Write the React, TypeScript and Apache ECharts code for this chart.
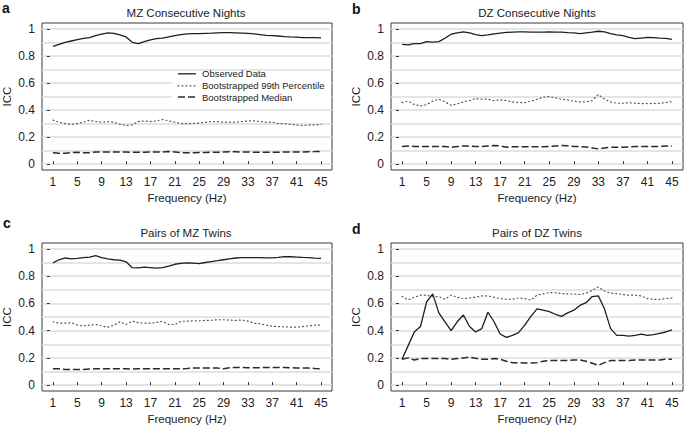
import { useEffect, useRef } from "react";
import * as echarts from "echarts";

// ---------- data ----------
const freqs = [1,2,3,4,5,6,7,8,9,10,11,12,13,14,15,16,17,18,19,20,21,22,23,24,25,26,27,28,29,30,31,32,33,34,35,36,37,38,39,40,41,42,43,44,45];
const xTickValues = [1,5,9,13,17,21,25,29,33,37,41,45];
const yTickValues = [0,0.2,0.4,0.6,0.8,1];
const yGridValues = [0,0.1,0.2,0.3,0.4,0.5,0.6,0.7,0.8,0.9,1];

const panelTitles = ["MZ Consecutive Nights","DZ Consecutive Nights","Pairs of MZ Twins","Pairs of DZ Twins"];
const panelLetters = ["a","b","c","d"];
const legendNames = ["Observed Data","Bootstrapped 99th Percentile","Bootstrapped Median"];
const xAxisTitle = "Frequency (Hz)";
const yAxisTitle = "ICC";

// a: MZ consecutive nights
const aObserved = [0.87,0.885,0.90,0.91,0.92,0.93,0.935,0.95,0.96,0.97,0.967,0.955,0.94,0.90,0.89,0.905,0.918,0.928,0.932,0.94,0.95,0.957,0.962,0.965,0.965,0.967,0.968,0.97,0.972,0.972,0.97,0.968,0.966,0.962,0.957,0.952,0.95,0.947,0.943,0.94,0.938,0.935,0.935,0.935,0.933];
const aP99 = [0.325,0.31,0.30,0.295,0.30,0.31,0.325,0.315,0.31,0.315,0.31,0.295,0.286,0.29,0.315,0.32,0.315,0.32,0.33,0.32,0.31,0.30,0.30,0.30,0.305,0.31,0.315,0.315,0.31,0.31,0.31,0.315,0.32,0.32,0.315,0.31,0.31,0.30,0.30,0.295,0.29,0.285,0.29,0.29,0.295];
const aMedian = [0.085,0.08,0.08,0.085,0.088,0.085,0.085,0.09,0.09,0.09,0.09,0.09,0.09,0.088,0.088,0.088,0.09,0.09,0.09,0.093,0.09,0.085,0.085,0.085,0.087,0.087,0.088,0.088,0.09,0.092,0.092,0.09,0.09,0.088,0.088,0.088,0.088,0.088,0.09,0.09,0.09,0.09,0.092,0.093,0.095];

// b: DZ consecutive nights
const bObserved = [0.885,0.882,0.89,0.89,0.905,0.902,0.905,0.93,0.96,0.97,0.977,0.97,0.957,0.95,0.955,0.962,0.968,0.973,0.976,0.977,0.977,0.976,0.975,0.975,0.977,0.975,0.975,0.972,0.97,0.965,0.97,0.975,0.982,0.978,0.965,0.955,0.95,0.937,0.927,0.932,0.937,0.935,0.932,0.93,0.922];
const bP99 = [0.455,0.465,0.44,0.43,0.44,0.465,0.48,0.46,0.435,0.445,0.46,0.47,0.485,0.48,0.48,0.47,0.475,0.47,0.46,0.455,0.455,0.465,0.48,0.495,0.50,0.49,0.48,0.475,0.465,0.46,0.46,0.47,0.515,0.48,0.46,0.45,0.45,0.455,0.45,0.448,0.448,0.448,0.45,0.455,0.462];
const bMedian = [0.13,0.135,0.13,0.13,0.13,0.13,0.13,0.13,0.125,0.13,0.135,0.135,0.13,0.13,0.135,0.138,0.135,0.125,0.128,0.128,0.128,0.128,0.128,0.128,0.13,0.135,0.138,0.136,0.13,0.13,0.127,0.12,0.113,0.12,0.125,0.125,0.125,0.128,0.13,0.13,0.13,0.13,0.132,0.135,0.135];

// c: pairs of MZ twins
const cObserved = [0.897,0.92,0.933,0.926,0.93,0.935,0.94,0.95,0.935,0.926,0.92,0.918,0.905,0.862,0.86,0.866,0.862,0.858,0.862,0.873,0.887,0.893,0.897,0.896,0.891,0.9,0.907,0.913,0.92,0.927,0.933,0.936,0.935,0.935,0.935,0.934,0.934,0.938,0.943,0.942,0.94,0.937,0.935,0.932,0.93];
const cP99 = [0.465,0.455,0.455,0.458,0.44,0.435,0.44,0.445,0.435,0.425,0.44,0.465,0.445,0.47,0.458,0.455,0.455,0.46,0.468,0.445,0.445,0.468,0.47,0.472,0.472,0.475,0.476,0.48,0.48,0.477,0.475,0.478,0.47,0.455,0.45,0.44,0.432,0.43,0.428,0.425,0.425,0.43,0.435,0.44,0.44];
const cMedian = [0.12,0.12,0.115,0.115,0.114,0.115,0.118,0.12,0.12,0.12,0.12,0.12,0.12,0.118,0.12,0.12,0.12,0.12,0.12,0.12,0.12,0.12,0.122,0.125,0.125,0.125,0.125,0.125,0.12,0.128,0.13,0.13,0.128,0.128,0.128,0.13,0.13,0.13,0.13,0.128,0.125,0.125,0.125,0.122,0.12];

// d: pairs of DZ twins
const dObserved = [0.19,0.29,0.39,0.43,0.61,0.67,0.53,0.465,0.40,0.465,0.515,0.43,0.39,0.415,0.535,0.465,0.375,0.35,0.365,0.385,0.44,0.505,0.56,0.55,0.54,0.52,0.505,0.53,0.55,0.585,0.605,0.65,0.655,0.56,0.415,0.365,0.365,0.36,0.365,0.375,0.365,0.37,0.38,0.39,0.405];
const dP99 = [0.65,0.625,0.645,0.66,0.66,0.65,0.65,0.63,0.66,0.645,0.635,0.64,0.645,0.655,0.655,0.645,0.635,0.63,0.63,0.64,0.635,0.625,0.66,0.67,0.68,0.678,0.672,0.67,0.668,0.665,0.675,0.695,0.72,0.69,0.675,0.672,0.665,0.66,0.66,0.655,0.635,0.63,0.63,0.635,0.64];
const dMedian = [0.19,0.20,0.185,0.195,0.195,0.195,0.195,0.195,0.19,0.195,0.20,0.205,0.197,0.19,0.19,0.195,0.19,0.175,0.165,0.165,0.163,0.163,0.165,0.175,0.18,0.18,0.18,0.18,0.185,0.185,0.175,0.16,0.145,0.165,0.18,0.18,0.18,0.18,0.185,0.185,0.185,0.185,0.185,0.19,0.19];

const panelSeries = [
  [aObserved, aP99, aMedian],
  [bObserved, bP99, bMedian],
  [cObserved, cP99, cMedian],
  [dObserved, dP99, dMedian],
];

// ---------- styling ----------
const FONT = '"Liberation Sans", Arial, sans-serif';
const TEXT = "#222";
const grids = [
  { left: 40, top: 23, width: 292, height: 147 },
  { left: 391, top: 23, width: 292, height: 147 },
  { left: 40, top: 243, width: 292, height: 148 },
  { left: 391, top: 243, width: 292, height: 148 },
];
const titlePos = [
  [186, 12.5], [537, 12.5], [186, 233], [537, 233],
];
const letterPos = [
  [2, 8], [352, 9], [3, 223], [352, 229],
];
const lineStyles = [
  { color: "#1e1e1e", width: 1.3, type: "solid" as any },
  { color: "#555", width: 1.2, type: [1, 3] as any, cap: "round" },
  { color: "#2a2a2a", width: 1.5, type: [7, 3] as any },
];
const Y_MIN = -0.043;
const Y_MAX = 1.043;

export default function App() {
  const ref = useRef<HTMLDivElement>(null);
  useEffect(() => {
    document.body.style.margin = "0";
    if (!ref.current) return;
    const chart = echarts.init(ref.current, undefined, { renderer: "svg" });

    const xAxis: any[] = [];
    const yAxis: any[] = [];
    const series: any[] = [];
    const graphic: any[] = [];

    grids.forEach((_, i) => {
      xAxis.push({
        type: "value",
        gridIndex: i,
        min: -0.8,
        max: 46.8,
        axisLine: { show: false },
        axisTick: { show: true, inside: true, length: 3, customValues: xTickValues, lineStyle: { color: "#333" } },
        axisLabel: { customValues: xTickValues, margin: 6, color: TEXT, fontSize: 12, fontFamily: FONT },
        splitLine: { show: false },
        name: xAxisTitle,
        nameLocation: "middle",
        nameGap: 22,
        nameTextStyle: { color: TEXT, fontSize: 11.5, fontFamily: FONT },
      });
      yAxis.push({
        type: "value",
        gridIndex: i,
        min: Y_MIN,
        max: Y_MAX,
        position: "left",
        axisLine: { show: false },
        axisTick: { show: true, inside: true, length: 3, customValues: yTickValues, lineStyle: { color: "#333" } },
        axisLabel: { customValues: yTickValues, margin: 7, color: TEXT, fontSize: 12, fontFamily: FONT },
        splitLine: { show: false },
        name: yAxisTitle,
        nameLocation: "middle",
        nameRotate: 90,
        nameGap: 29,
        nameTextStyle: { color: TEXT, fontSize: 11.5, fontFamily: FONT },
      });
      yAxis.push({
        type: "value",
        gridIndex: i,
        min: Y_MIN,
        max: Y_MAX,
        position: "left",
        axisLine: { show: false },
        axisTick: { show: false, customValues: yGridValues },
        axisLabel: { show: false, customValues: yGridValues },
        splitLine: { show: true, lineStyle: { color: "#dcdcdc", width: 1.5 } },
      });
      panelSeries[i].forEach((vals, k) => {
        series.push({
          type: "line",
          name: legendNames[k],
          xAxisIndex: i,
          yAxisIndex: 2 * i,
          data: freqs.map((f, j) => [f, vals[j]]),
          symbol: "none",
          showSymbol: false,
          silent: true,
          z: 3,
          lineStyle: lineStyles[k],
        });
      });
      graphic.push({
        type: "text",
        x: titlePos[i][0],
        y: titlePos[i][1],
        style: { text: panelTitles[i], fill: TEXT, font: `11.5px ${FONT}`, textAlign: "center", textVerticalAlign: "middle" },
      });
      graphic.push({
        type: "text",
        x: letterPos[i][0],
        y: letterPos[i][1],
        style: { text: panelLetters[i], fill: "#111", font: `bold 14px ${FONT}`, textAlign: "left", textVerticalAlign: "middle" },
      });
    });

    // legend inside panel a (white box hides the grid lines behind it)
    graphic.push({
      type: "rect",
      shape: { x: 172, y: 72, width: 159, height: 32 },
      style: { fill: "#fff" },
      z: 50,
    });
    const legendY = [73.8, 85.8, 97];
    legendNames.forEach((nm, k) => {
      graphic.push({
        type: "line",
        z: 51,
        shape: { x1: 178, y1: legendY[k], x2: 196, y2: legendY[k] },
        style: { stroke: lineStyles[k].color, lineWidth: lineStyles[k].width, lineDash: Array.isArray(lineStyles[k].type) ? lineStyles[k].type : null, lineCap: k === 1 ? "round" : "butt" },
      });
      graphic.push({
        type: "text",
        z: 51,
        x: 202,
        y: legendY[k],
        style: { text: nm, fill: TEXT, font: `9.5px ${FONT}`, textAlign: "left", textVerticalAlign: "middle" },
      });
    });

    chart.setOption({
      animation: false,
      backgroundColor: "#fff",
      grid: grids.map((g) => ({ ...g, show: true, borderColor: "#3a3a3a", borderWidth: 1, backgroundColor: "transparent", containLabel: false })),
      xAxis,
      yAxis,
      series,
      graphic,
    });
    return () => chart.dispose();
  }, []);
  return <div ref={ref} style={{ width: 685, height: 426 }} />;
}
